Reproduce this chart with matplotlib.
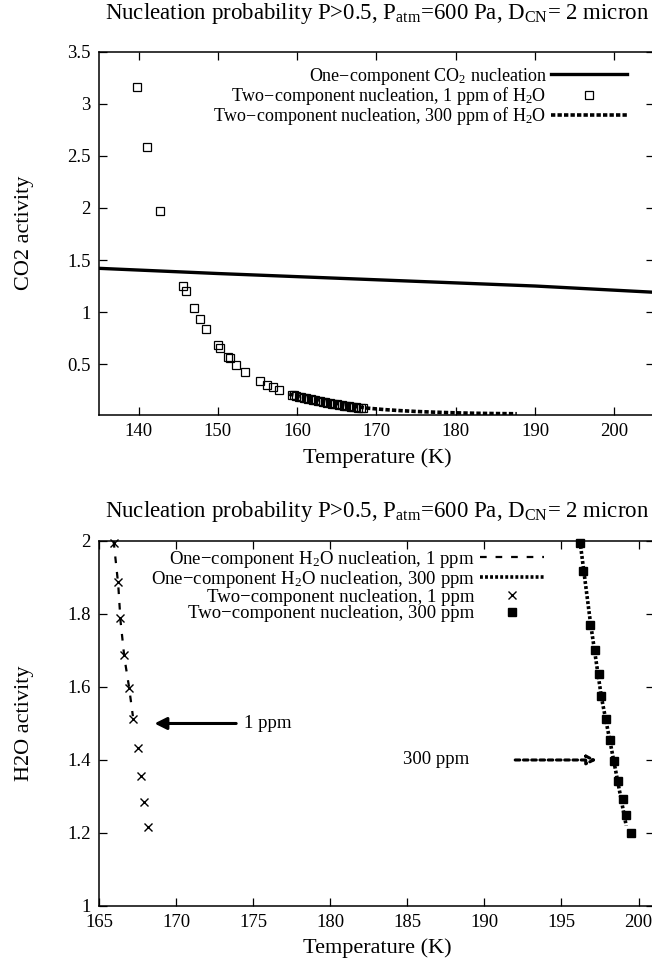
import matplotlib
matplotlib.use("Agg")
import matplotlib.pyplot as plt

plt.rcParams['font.family'] = ['Liberation Serif', 'DejaVu Serif']
plt.rcParams['mathtext.fontset'] = 'custom'
plt.rcParams['mathtext.rm'] = 'Liberation Serif'
plt.rcParams['mathtext.it'] = 'Liberation Serif:italic'
plt.rcParams['font.size'] = 13

# ---- top panel: CO2 activity ----
co2_T = [135, 150, 170, 190, 205]
co2_act = [1.42, 1.37, 1.31, 1.25, 1.19]

sq_T = [139.8, 141.0, 142.7, 145.66, 145.98, 146.99, 147.74, 148.54, 149.96, 150.21,
        151.22, 151.48, 152.32, 153.37, 155.31, 156.19, 156.95, 157.7,
        159.3, 159.6, 159.9, 160.2, 160.5, 160.8, 161.1, 161.4, 161.7, 162.0,
        162.3, 162.6, 162.9, 163.2, 163.5, 163.8, 164.1, 164.4, 164.7, 165.0,
        165.3, 165.6, 165.9, 166.2, 166.5, 166.8, 167.1, 167.4, 167.7, 168.0, 168.3]
sq_act = [3.167, 2.59, 1.97, 1.25, 1.20, 1.04, 0.934, 0.839, 0.683, 0.655,
          0.567, 0.555, 0.492, 0.428, 0.339, 0.30, 0.275, 0.246,
          0.205, 0.199, 0.193, 0.187, 0.181, 0.176, 0.170, 0.165, 0.160, 0.155,
          0.150, 0.145, 0.140, 0.136, 0.132, 0.127, 0.123, 0.119, 0.115, 0.111,
          0.107, 0.103, 0.100, 0.096, 0.093, 0.090, 0.087, 0.084, 0.081, 0.078, 0.076]

ppm300_T = [159, 161, 163, 165, 167, 169, 171, 173, 175, 177, 179, 181, 183, 185, 187.7]
ppm300_act = [0.21, 0.18, 0.15, 0.12, 0.095, 0.075, 0.062, 0.052, 0.044, 0.038, 0.033,
              0.029, 0.026, 0.024, 0.022]

# ---- bottom panel: H2O activity ----
h1_T = [165.95, 166.25, 166.4, 166.65, 166.95, 167.2]
h1_act = [2.0, 1.88, 1.78, 1.68, 1.60, 1.52]

h300_T = [196.2, 196.9, 197.6, 198.2, 198.7, 199.2]
h300_act = [2.0, 1.77, 1.57, 1.44, 1.33, 1.22]

x1_T = [165.98, 166.24, 166.37, 166.63, 166.95, 167.23, 167.52, 167.71, 167.94, 168.2]
x1_act = [1.994, 1.889, 1.789, 1.688, 1.598, 1.512, 1.434, 1.356, 1.284, 1.216]

f300_T = [196.20, 196.41, 196.85, 197.17, 197.41, 197.56, 197.88, 198.14, 198.42,
          198.68, 198.97, 199.18, 199.51]
f300_act = [1.994, 1.919, 1.770, 1.701, 1.635, 1.574, 1.512, 1.455, 1.397,
            1.342, 1.294, 1.248, 1.200]

title = r"Nucleation probability P>0.5, P$_{\rm atm}$=600 Pa, D$_{\rm CN}$= 2 micron"

fig = plt.figure(figsize=(6.52, 9.64), dpi=100)
ax1 = fig.add_axes([0.1518, 0.5695, 0.8512, 0.3766])
ax2 = fig.add_axes([0.1518, 0.0602, 0.8512, 0.3786])

ax1.plot(co2_T, co2_act, color='black', lw=2.4,
         label="One\u2212component CO$_2$ nucleation")
ax1.plot(sq_T, sq_act, ls='none', marker='s', ms=6, mfc='none', mec='black', mew=0.9,
         label="Two\u2212component nucleation, 1 ppm of H$_2$O")
ax1.plot(ppm300_T, ppm300_act, color='black', lw=2.6, ls=(0, (1.2, 0.6)),
         label="Two\u2212component nucleation, 300 ppm of H$_2$O")
ax1.set_xlim(135, 205)
ax1.set_ylim(0.01, 3.5)
ax1.set_xticks([140, 150, 160, 170, 180, 190, 200])
ax1.set_yticks([0.5, 1, 1.5, 2, 2.5, 3, 3.5])
ax1.set_yticklabels(['0.5', '1', '1.5', '2', '2.5', '3', '3.5'])
ax1.legend(loc='upper right', bbox_to_anchor=(0.951, 0.962), frameon=False,
           markerfirst=False, handlelength=4.2, handletextpad=0.25,
           labelspacing=-0.1, borderaxespad=0, borderpad=0, fontsize=13)

ax2.plot(h1_T, h1_act, color='black', lw=1.6, ls=(0, (3, 4)),
         label="One\u2212component H$_2$O nucleation, 1 ppm")
ax2.plot(h300_T, h300_act, color='black', lw=2.6, ls=(0, (0.8, 0.6)),
         label="One\u2212component H$_2$O nucleation, 300 ppm")
ax2.plot(x1_T, x1_act, ls='none', marker='x', ms=5.5, mec='black', mew=1.0,
         label="Two\u2212component nucleation, 1 ppm", clip_on=False)
ax2.plot(f300_T, f300_act, ls='none', marker='s', ms=5.5, color='black',
         label="Two\u2212component nucleation, 300 ppm", clip_on=False)
ax2.set_xlim(165, 201)
ax2.set_ylim(1, 2)
ax2.set_xticks([165, 170, 175, 180, 185, 190, 195, 200])
ax2.set_yticks([1, 1.2, 1.4, 1.6, 1.8, 2])
ax2.set_yticklabels(['1', '1.2', '1.4', '1.6', '1.8', '2'])
ax2.legend(loc='upper right', bbox_to_anchor=(0.802, 0.979), frameon=False,
           markerfirst=False, handlelength=3.4, handletextpad=0.3,
           labelspacing=-0.05, borderaxespad=0, borderpad=0, fontsize=13.5)

ax2.annotate('', xy=(168.6, 1.5), xytext=(173.9, 1.5),
             arrowprops=dict(arrowstyle='-|>', lw=2.2, color='black', mutation_scale=18,
                             shrinkA=0, shrinkB=0))
ax2.text(174.4, 1.5, "1 ppm", va='center', ha='left', fontsize=13.5)
ax2.annotate('', xy=(197.3, 1.4), xytext=(192.0, 1.4),
             arrowprops=dict(arrowstyle='-|>', lw=2.2, color='black', ls=(0, (1.5, 1.2)),
                             mutation_scale=14, fc='white', shrinkA=0, shrinkB=0))
ax2.text(189.0, 1.4, "300 ppm", va='center', ha='right', fontsize=13.5)

for ax in (ax1, ax2):
    ax.tick_params(direction='in', length=6, width=0.9, top=True, right=True, pad=6,
                   labelsize=13.5)
    for s in ax.spines.values():
        s.set_linewidth(1.1)

fig.text(0.579, 1 - 14 / 964, title, ha='center', va='center', fontsize=16.5)
fig.text(0.579, 1 - 511 / 964, title, ha='center', va='center', fontsize=16.5)
fig.text(0.579, 1 - 458 / 964, "Temperature (K)", ha='center', va='center', fontsize=16)
fig.text(0.579, 1 - 948 / 964, "Temperature (K)", ha='center', va='center', fontsize=16)
fig.text(24 / 652, 1 - 233 / 964, "CO2 activity", ha='center', va='center',
         rotation=90, fontsize=16)
fig.text(24 / 652, 1 - 723 / 964, "H2O activity", ha='center', va='center',
         rotation=90, fontsize=16)

fig.savefig("out.png", dpi=100)
